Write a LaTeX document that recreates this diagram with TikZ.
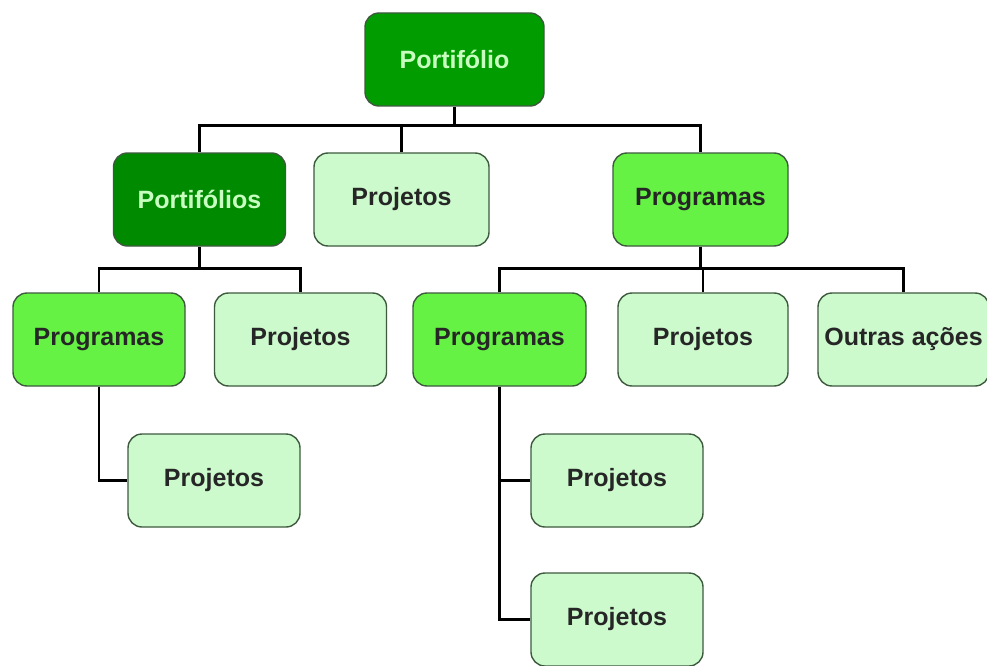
\documentclass[tikz,border=0pt]{standalone}
\usepackage{fontspec}
\setmainfont{Liberation Sans}
\definecolor{topgreen}{HTML}{009C00}
\definecolor{deepgreen}{HTML}{008A00}
\definecolor{brightgreen}{HTML}{66F244}
\definecolor{palegreen}{HTML}{CCFACC}
\definecolor{edgegray}{HTML}{3E5A3E}
\definecolor{lighttext}{HTML}{C8FFC0}
\begin{document}
\begin{tikzpicture}[x=1pt,y=-1pt,
  box/.style={draw=edgegray, line width=1.4pt, rounded corners=14pt,
    minimum width=172pt, minimum height=93pt, inner sep=0pt,
    font=\fontsize{25}{29}\selectfont\bfseries},
  dark/.style={box, fill=#1, text=lighttext},
  prog/.style={box, fill=brightgreen, text=black!85},
  proj/.style={box, fill=palegreen, text=black!85},
  link/.style={draw=black, line width=2.6pt}]
\useasboundingbox (0,0) rectangle (987,666);
\fill[white] (0,0) rectangle (987,666);

% level 0
\node[dark=topgreen, minimum width=179pt] (root) at (454.5,59.5) {Portifólio};
% level 1
\node[dark=deepgreen] (pfs) at (199.5,199.5) {Portifólios};
\node[proj, minimum width=175pt] (pj1) at (401.5,199.5) {Projetos};
\node[prog, minimum width=175pt] (pg1) at (700.5,199.5) {Programas};
% level 2
\node[prog] (pgL) at (99,339.5) {Programas};
\node[proj] (pjL) at (300.5,339.5) {Projetos};
\node[prog, minimum width=173pt] (pgR) at (499.5,339.5) {Programas};
\node[proj, minimum width=170pt] (pjM) at (703,339.5) {Projetos};
\node[proj, minimum width=171pt] (oa) at (903.5,339.5) {Outras ações};
% level 3
\node[proj] (pjLL) at (214,480.5) {Projetos};
\node[proj] (pjR1) at (617,480.5) {Projetos};
\node[proj] (pjR2) at (617,619.5) {Projetos};

% connectors
\coordinate (b0) at ([yshift=-19pt]root.south);
\draw[link] (root.south) -- (b0);
\draw[link] (pfs.north) |- (b0) -| (pg1.north);
\draw[link] (pj1.north) -- (pj1.north |- b0);

\coordinate (b1) at ([yshift=-22pt]pfs.south);
\draw[link] (pfs.south) -- (b1);
\draw[link] (pgL.north) |- (b1) -| (pjL.north);

\coordinate (b2) at ([yshift=-22pt]pg1.south);
\draw[link] (pg1.south) -- (b2);
\draw[link] (pgR.north) |- (b2) -| (oa.north);
\draw[link] (pjM.north) -- (pjM.north |- b2);

\draw[link] (pgL.south) |- (pjLL.west);
\draw[link] (pgR.south) |- (pjR2.west);
\draw[link] (pjR1.west) -- (pjR1.west -| pgR.south);
\end{tikzpicture}
\end{document}
